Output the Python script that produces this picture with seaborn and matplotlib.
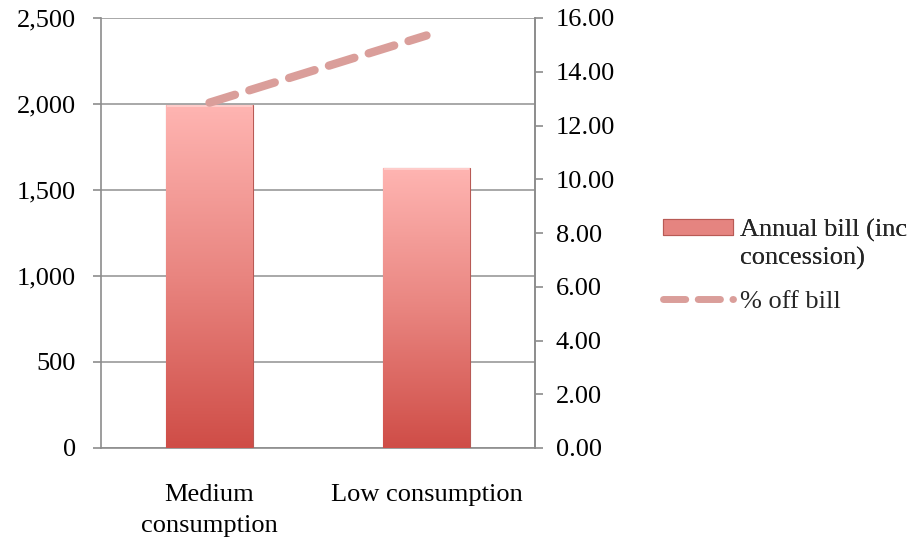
import numpy as np
import pandas as pd
import matplotlib
matplotlib.use("Agg")
import matplotlib.pyplot as plt
import seaborn as sns
from matplotlib.ticker import FuncFormatter, FixedLocator
from matplotlib.patches import Patch
from matplotlib.lines import Line2D
from matplotlib.colors import LinearSegmentedColormap

categories = ["Medium\nconsumption", "Low consumption"]
annual_bill = [1995, 1630]
pct_off_bill = [12.85, 15.35]
left_ticks = [0, 500, 1000, 1500, 2000, 2500]
right_ticks = [0, 2, 4, 6, 8, 10, 12, 14, 16]

sns.set_theme(style="white")
plt.rcParams["font.family"] = ["Liberation Serif", "DejaVu Serif"]
plt.rcParams["font.size"] = 19

df = pd.DataFrame({"category": categories, "bill": annual_bill, "pct": pct_off_bill})

fig = plt.figure(figsize=(9.21, 5.43), dpi=100)
ax = fig.add_axes([101 / 921, 1 - 448 / 543, 434 / 921, 430 / 543])

sns.barplot(data=df, x="category", y="bill", ax=ax, width=0.4,
            color="#E8807A", edgecolor="#B85A55", linewidth=0.8, zorder=3)

# vertical gradient fill clipped to each bar
grad_cmap = LinearSegmentedColormap.from_list("bar", ["#CF4D47", "#E98580", "#FFB5B2"])
grad = np.linspace(0, 1, 256).reshape(-1, 1)
for bar in ax.patches:
    x0, y0 = bar.get_x(), bar.get_y()
    w, h = bar.get_width(), bar.get_height()
    im = ax.imshow(grad, cmap=grad_cmap, origin="lower", aspect="auto",
                   extent=[x0, x0 + w, y0, y0 + h], zorder=3.5)
    im.set_clip_path(bar)
    # light bevel along the top edge
    ax.plot([x0 + 0.005, x0 + w - 0.005], [y0 + h - 8, y0 + h - 8],
            color="#FFD2D0", lw=1.2, zorder=3.6, solid_capstyle="butt")

ax.set_xlim(-0.5, 1.5)
ax.set_ylim(0, 2500)
ax.set_yticks(left_ticks)
ax.yaxis.set_major_formatter(FuncFormatter(lambda v, p: f"{int(v):,}"))
ax.set_xlabel("")
ax.set_ylabel("")
ax.yaxis.grid(True, color="#9A9A9A", linewidth=1.2, zorder=0)
ax.set_axisbelow(True)

ax.set_xticks(range(len(categories)), labels=categories)
ax.tick_params(axis="x", which="major", length=0, pad=26, labelsize=19, colors="black")
ax.xaxis.set_minor_locator(FixedLocator([-0.5, 0.5, 1.5]))
ax.tick_params(axis="x", which="minor", length=8, width=1.2, color="#8C8C8C", direction="out")
ax.tick_params(axis="y", length=6, width=1.2, color="#8C8C8C", direction="out",
               labelsize=19, pad=12, labelcolor="black", left=True)

ax.spines["top"].set_visible(False)
for side in ["left", "bottom", "right"]:
    ax.spines[side].set_color("#8C8C8C")
    ax.spines[side].set_linewidth(1.2)

ax2 = ax.twinx()
sns.lineplot(x=np.arange(len(categories)), y=pct_off_bill, ax=ax2, color="#DA9E9A",
             linewidth=6, zorder=5)
line = ax2.lines[0]
line.set_dashes([3.2, 1.8])
line.set_dash_capstyle("round")
ax2.set_xlim(-0.5, 1.5)
ax2.set_ylim(0, 16)
ax2.set_yticks(right_ticks)
ax2.yaxis.set_major_formatter(FuncFormatter(lambda v, p: f"{v:.2f}"))
ax2.tick_params(axis="y", length=6, width=1.2, color="#8C8C8C", direction="out",
                labelsize=19, pad=9, labelcolor="black", right=True)
for side in ["top", "left", "bottom"]:
    ax2.spines[side].set_visible(False)
ax2.spines["right"].set_color("#8C8C8C")
ax2.spines["right"].set_linewidth(1.2)

# legend: bar entry (wrapped label, swatch on first line) and line entry
bar_handles = [
    Patch(facecolor="#E58480", edgecolor="#B85A55", linewidth=0.8, label="Annual bill (inc"),
    Line2D([], [], color="none", label="concession)"),
]
leg1 = fig.legend(handles=bar_handles, loc="upper left",
                  bbox_to_anchor=(663 / 921, 1 - 219 / 543),
                  frameon=False, fontsize=19, handlelength=2.65, handleheight=0.55,
                  handletextpad=0.25, labelspacing=0.2, borderaxespad=0, borderpad=0)
fig.add_artist(leg1)
line_handles = [
    Line2D([0], [0], color="#DA9E9A", linewidth=5, dashes=[3.2, 1.8],
           dash_capstyle="round", label="% off bill"),
]
fig.legend(handles=line_handles, loc="center left",
           bbox_to_anchor=(663 / 921, 1 - 301 / 543),
           frameon=False, fontsize=19, handlelength=2.65,
           handletextpad=0.25, borderaxespad=0, borderpad=0)

fig.canvas.draw()
for t in ax.get_xticklabels():
    t.set_linespacing(1.5)

fig.savefig("out.png", dpi=100)
